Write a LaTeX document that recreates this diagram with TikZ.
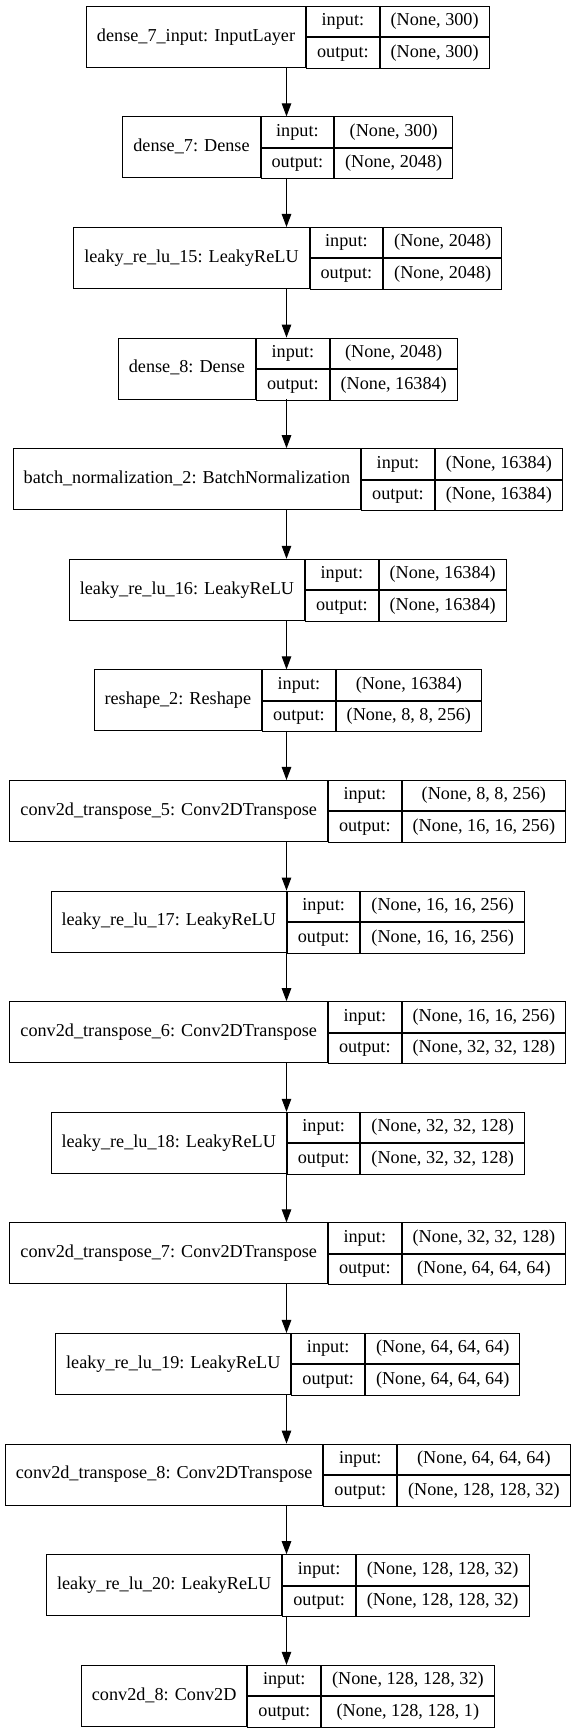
\documentclass[tikz,border=0pt]{standalone}
\usepackage{fontspec}
\setmainfont{Liberation Serif}
\usetikzlibrary{arrows.meta}
\font\recprim="Liberation Serif" at 18.2pt
\newcommand\recfont{\recprim}
\newlength\wa \newlength\wb \newlength\wc \newlength\wtmp
\tikzset{
  recbox/.style={rectangle, inner sep=0pt, minimum height=61pt, draw=none},
  cellbox/.style={rectangle, draw=black, line width=1pt, inner sep=0pt,
    minimum height=30.5pt, font=\recfont, text height=12.5pt, text depth=4pt},
  flow/.style={draw=black, line width=1pt, -{Triangle[length=13pt,width=9.5pt]}}
}
\newcommand\layer[5]{%
  \settowidth\wa{\recprim #3}\addtolength\wa{21pt}%
  \settowidth\wb{\recprim output:}\addtolength\wb{21pt}%
  \settowidth\wc{\recprim #4}\settowidth\wtmp{\recprim #5}%
  \ifdim\wtmp>\wc \setlength\wc{\wtmp}\fi\addtolength\wc{21pt}%
  \pgfmathsetlengthmacro\totw{\wa+\wb+\wc}%
  \pgfmathsetmacro\yc{1733-36.5-110.6*(#2-1)}%
  \node[recbox, minimum width=\totw] (#1) at (286.5pt,\yc pt) {};
  \node[cellbox, minimum width=\wa, minimum height=61pt, anchor=north west] (#1-name) at (#1.north west) {#3};
  \node[cellbox, minimum width=\wb, anchor=north west] (#1-inl) at (#1-name.north east) {input:};
  \node[cellbox, minimum width=\wb, anchor=north west] (#1-outl) at (#1-inl.south west) {output:};
  \node[cellbox, minimum width=\wc, anchor=north west] (#1-inv) at (#1-inl.north east) {#4};
  \node[cellbox, minimum width=\wc, anchor=north west] (#1-outv) at (#1-inv.south west) {#5};
}
\begin{document}
\begin{tikzpicture}
\fill[white] (0,0) rectangle (573pt,1733pt);
\useasboundingbox (0,0) rectangle (573pt,1733pt);
\layer{L1}{1}{dense\_7\_input: InputLayer}{(None, 300)}{(None, 300)}
\layer{L2}{2}{dense\_7: Dense}{(None, 300)}{(None, 2048)}
\layer{L3}{3}{leaky\_re\_lu\_15: LeakyReLU}{(None, 2048)}{(None, 2048)}
\layer{L4}{4}{dense\_8: Dense}{(None, 2048)}{(None, 16384)}
\layer{L5}{5}{batch\_normalization\_2: BatchNormalization}{(None, 16384)}{(None, 16384)}
\layer{L6}{6}{leaky\_re\_lu\_16: LeakyReLU}{(None, 16384)}{(None, 16384)}
\layer{L7}{7}{reshape\_2: Reshape}{(None, 16384)}{(None, 8, 8, 256)}
\layer{L8}{8}{conv2d\_transpose\_5: Conv2DTranspose}{(None, 8, 8, 256)}{(None, 16, 16, 256)}
\layer{L9}{9}{leaky\_re\_lu\_17: LeakyReLU}{(None, 16, 16, 256)}{(None, 16, 16, 256)}
\layer{L10}{10}{conv2d\_transpose\_6: Conv2DTranspose}{(None, 16, 16, 256)}{(None, 32, 32, 128)}
\layer{L11}{11}{leaky\_re\_lu\_18: LeakyReLU}{(None, 32, 32, 128)}{(None, 32, 32, 128)}
\layer{L12}{12}{conv2d\_transpose\_7: Conv2DTranspose}{(None, 32, 32, 128)}{(None, 64, 64, 64)}
\layer{L13}{13}{leaky\_re\_lu\_19: LeakyReLU}{(None, 64, 64, 64)}{(None, 64, 64, 64)}
\layer{L14}{14}{conv2d\_transpose\_8: Conv2DTranspose}{(None, 64, 64, 64)}{(None, 128, 128, 32)}
\layer{L15}{15}{leaky\_re\_lu\_20: LeakyReLU}{(None, 128, 128, 32)}{(None, 128, 128, 32)}
\layer{L16}{16}{conv2d\_8: Conv2D}{(None, 128, 128, 32)}{(None, 128, 128, 1)}
\foreach \i in {1,...,15}{
  \pgfmathtruncatemacro\j{\i+1}
  \draw[flow] (L\i.south) -- (L\j.north);
}
\end{tikzpicture}
\end{document}
